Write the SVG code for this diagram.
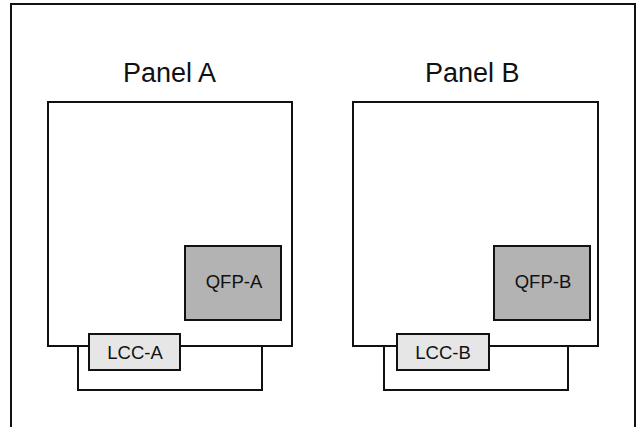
<svg xmlns="http://www.w3.org/2000/svg" width="637" height="427" viewBox="0 0 637 427">
  <style>
    .line { fill: none; stroke: #111; stroke-width: 2; }
    .panel { fill: #fff; stroke: #111; stroke-width: 2; }
    .qfp { fill: #b3b3b3; stroke: #111; stroke-width: 2; }
    .lcc { fill: #e6e6e6; stroke: #111; stroke-width: 2; }
    .title { font-family: "Liberation Sans", Arial, sans-serif; font-size: 27px; fill: #111; }
    .label { font-family: "Liberation Sans", Arial, sans-serif; font-size: 18.5px; fill: #111; text-anchor: middle; }
  </style>
  <rect width="637" height="427" fill="#fff"/>
  <!-- outer frame, open at the bottom -->
  <path class="line" d="M11,428 V4 H635 V428"/>

  <!-- connectors: cable loops under each panel -->
  <g id="connectors">
    <path class="line" d="M78,346 V390 H262 V346"/>
    <path class="line" d="M384,346 V390 H568 V346"/>
  </g>

  <g id="panel-a">
    <text class="title" x="123" y="82">Panel A</text>
    <rect class="panel" x="48" y="102" width="244" height="244"/>
  </g>
  <g id="qfp-a">
    <rect class="qfp" x="185" y="246" width="96" height="74"/>
    <text class="label" x="234" y="288">QFP-A</text>
  </g>
  <g id="lcc-a">
    <rect class="lcc" x="89" y="334" width="91" height="36"/>
    <text class="label" x="135" y="359">LCC-A</text>
  </g>

  <g id="panel-b">
    <text class="title" x="425" y="82">Panel B</text>
    <rect class="panel" x="353" y="102" width="245" height="244"/>
  </g>
  <g id="qfp-b">
    <rect class="qfp" x="494" y="246" width="96" height="74"/>
    <text class="label" x="543" y="288">QFP-B</text>
  </g>
  <g id="lcc-b">
    <rect class="lcc" x="397" y="334" width="92" height="36"/>
    <text class="label" x="443" y="359">LCC-B</text>
  </g>
</svg>
